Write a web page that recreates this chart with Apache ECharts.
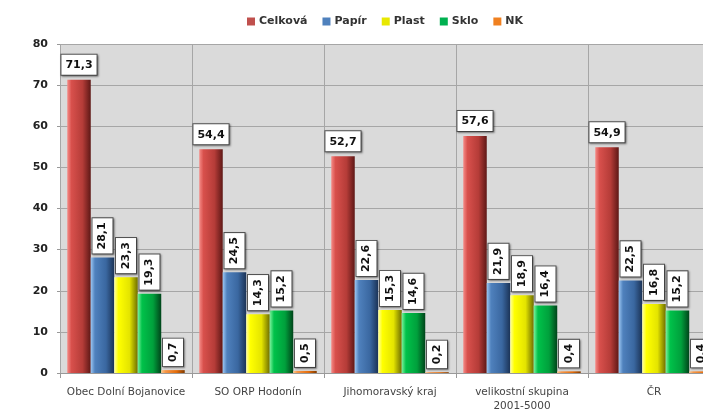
<!DOCTYPE html>
<html><head><meta charset="utf-8">
<script src="https://cdn.jsdelivr.net/npm/echarts@6/dist/echarts.min.js"></script>
<style>html,body{margin:0;padding:0;background:#fff}#c{width:703px;height:413px}</style>
</head><body><div id="c"></div>
<script>
const categories = ["Obec Dolní Bojanovice", "SO ORP Hodonín", "Jihomoravský kraj", "velikostní skupina\n2001-5000", "ČR"];
const seriesNames = ["Celková", "Papír", "Plast", "Sklo", "NK"];
const celkova = [71.3, 54.4, 52.7, 57.6, 54.9];
const papir = [28.1, 24.5, 22.6, 21.9, 22.5];
const plast = [23.3, 14.3, 15.3, 18.9, 16.8];
const sklo = [19.3, 15.2, 14.6, 16.4, 15.2];
const nk = [0.7, 0.5, 0.2, 0.4, 0.4];
const yTicks = [0, 10, 20, 30, 40, 50, 60, 70, 80];

const values = [celkova, papir, plast, sklo, nk];
const palettes = [
  ['#f58a86', '#d8504c', '#b53c38', '#5e1816', '#c0504d'],
  ['#9cc6f2', '#4f81bd', '#3a67a0', '#1b3356', '#4f81bd'],
  ['#ffffa0', '#ffff00', '#e4e400', '#6e6e00', '#e8e800'],
  ['#7cf29c', '#00c24a', '#00a03c', '#00441a', '#00b050'],
  ['#fbc88f', '#f79646', '#e46c0a', '#7f3a00', '#f08020']
];
function grad(p) {
  return {type: 'linear', x: 0, y: 0, x2: 1, y2: 0, colorStops: [
    {offset: 0, color: p[0]}, {offset: 0.18, color: p[1]}, {offset: 0.65, color: p[2]}, {offset: 1, color: p[3]}
  ]};
}
const fmt = v => String(v.value).replace('.', ',');
const boxStyle = {
  backgroundColor: '#fff', borderColor: '#555', borderWidth: 1, padding: [5, 4, 4, 4],
  shadowColor: 'rgba(0,0,0,0.35)', shadowBlur: 2, shadowOffsetX: 1, shadowOffsetY: 1,
  color: '#111', fontSize: 11, fontWeight: 'bold', fontFamily: 'DejaVu Sans'
};

const series = seriesNames.map((name, i) => ({
  name: name,
  type: 'bar',
  data: values[i],
  barGap: '0%',
  barCategoryGap: '11%',
  itemStyle: {color: grad(palettes[i])},
  label: i === 0 ? Object.assign({show: true, position: 'top', distance: 5, formatter: fmt}, boxStyle)
                 : Object.assign({show: true, position: 'top', distance: 4, rotate: 90, align: 'left', verticalAlign: 'middle', formatter: fmt}, boxStyle)
}));

const chart = echarts.init(document.getElementById('c'));
chart.setOption({
  animation: false,
  backgroundColor: '#fff',
  legend: {
    left: 242, top: 11, itemWidth: 8, itemHeight: 8, itemGap: 15,
    icon: 'rect',
    data: seriesNames.map((n, i) => ({name: n, itemStyle: {color: palettes[i][4]}})),
    textStyle: {fontSize: 11, fontWeight: 'bold', color: '#333', fontFamily: 'DejaVu Sans', padding: [0, 0, 0, -1]}
  },
  grid: {left: 60, top: 44, width: 660, height: 329, show: true, backgroundColor: '#dadada', borderWidth: 0, outerBoundsMode: 'none', containLabel: false},
  xAxis: {
    type: 'category', data: categories,
    axisLine: {show: true, lineStyle: {color: '#999', width: 1}},
    axisTick: {show: true, length: 5, lineStyle: {color: '#999'}},
    splitLine: {show: true, lineStyle: {color: '#a6a6a6', width: 1}},
    axisLabel: {fontSize: 10.5, color: '#444', margin: 12, lineHeight: 14, fontFamily: 'DejaVu Sans', interval: 0}
  },
  yAxis: {
    type: 'value', min: 0, max: 80, interval: 10,
    axisLine: {show: false},
    axisTick: {show: true, length: 3, lineStyle: {color: '#999'}},
    splitLine: {show: true, lineStyle: {color: '#a6a6a6', width: 1}},
    axisLabel: {fontSize: 11, fontWeight: 'bold', color: '#222', margin: 12, fontFamily: 'DejaVu Sans',
      formatter: v => yTicks.includes(v) ? String(v) : ''}
  },
  series: series
});
</script></body></html>
